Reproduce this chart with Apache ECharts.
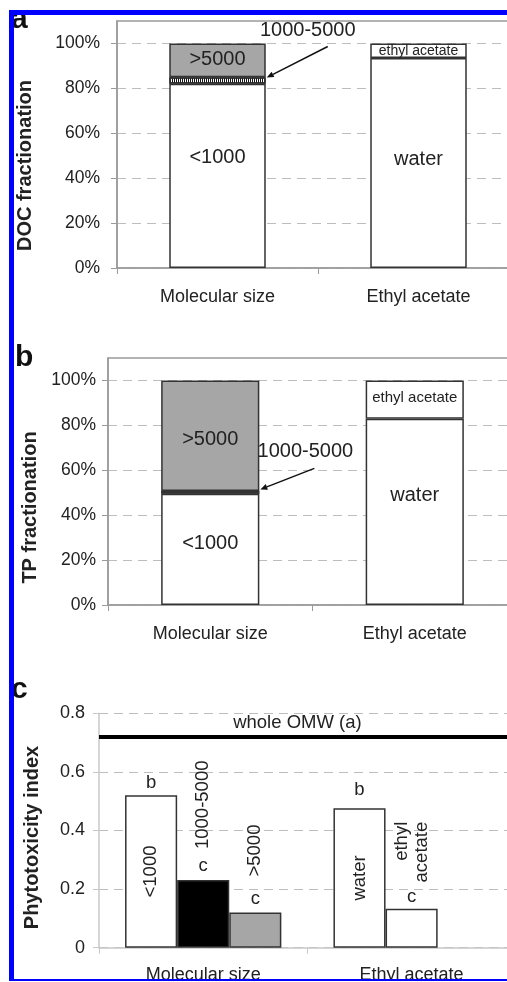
<!DOCTYPE html>
<html><head><meta charset="utf-8">
<script src="https://cdn.jsdelivr.net/npm/echarts@6/dist/echarts.min.js"></script>
<style>html,body{margin:0;padding:0;background:#fff}#c{width:507px;height:982px}</style>
</head><body><div id="c"></div>
<script>
// ---------- data ----------
const categories = ['Molecular size', 'Ethyl acetate'];
// panel a: DOC fractionation (%)
const docLow = [82, 93.5];
const docMid = [3, 6.5];
const docHigh = [15, null];
// panel b: TP fractionation (%)
const tpLow = [49.5, 83];
const tpMid = [1.3, 17];
const tpHigh = [49.2, null];
const lowNames = ['<1000', 'water'];
const midNames = ['1000-5000', 'ethyl acetate'];
const highNames = ['>5000', ''];
const pctTicks = [0, 20, 40, 60, 80, 100];
// panel c: phytotoxicity index
const phytoLow = [0.52, 0.476];
const phytoMid = [0.231, 0.133];
const phytoHigh = [0.12, null];
const phytoNamesLow = ['<1000', 'water'];
const phytoNamesMid = ['1000-5000', 'ethyl\nacetate'];
const phytoNamesHigh = ['>5000', ''];
const lettersLow = ['b', 'b'];
const lettersMid = ['c', 'c'];
const lettersHigh = ['c', ''];
const wholeOMW = 0.72;
const wholeOMWLabel = 'whole OMW (a)';
const panelLetters = ['a', 'b', 'c'];
const yTitles = ['DOC fractionation', 'TP fractionation', 'Phytotoxicity index'];

// ---------- styles ----------
const FONT = "'Liberation Sans', Arial, Helvetica, sans-serif";
const TXT = '#222';
const AX = '#9a9a9a';
const AXC = '#c8c8c8';
const GRIDLINE = {show: true, lineStyle: {type: [9, 6], color: '#bdbdbd', width: 1}};
const BORDER = {borderColor: '#333', borderWidth: 1.5};
const GRAY = '#a6a6a6';
const WHITE = {color: '#fff'};
const GRAYF = {color: GRAY};
const HATCH = {color: '#fff', decal: {symbol: 'rect', symbolSize: 1, dashArrayX: [1, 1], dashArrayY: [4, 0], color: '#111', rotation: 0}};

function pctY(gi, name, gap, margin, shift) {
  return {gridIndex: gi, type: 'value', min: 0, max: 110, interval: 20,
    axisLine: {show: true, lineStyle: {color: AX, width: 1.5}},
    axisTick: {show: true, length: 6, customValues: pctTicks, lineStyle: {color: AX, width: 1}},
    axisLabel: {customValues: pctTicks, margin: margin, fontSize: 17.5, color: TXT, fontFamily: FONT,
      formatter: v => v > 100 ? '' : v + '%'},
    splitLine: GRIDLINE,
    name: name, nameLocation: 'middle', nameGap: gap, nameRotate: 90,
    nameTextStyle: {fontWeight: 'bold', fontSize: 20, color: TXT, fontFamily: FONT, padding: [0, shift, 0, 0]}};
}
function catX(gi, color, margin) {
  return {gridIndex: gi, type: 'category', data: categories,
    axisLine: {show: true, lineStyle: {color: color, width: 1.5}},
    axisTick: {show: true, length: 6, lineStyle: {color: color}},
    axisLabel: {margin: margin, fontSize: 18, color: TXT, fontFamily: FONT, interval: 0},
    splitLine: {show: false}};
}
function stackSeries(gi, stack, values, fills, names, offsets, sizes) {
  return {type: 'bar', xAxisIndex: gi, yAxisIndex: gi, stack: stack, barWidth: '48%',
    emphasis: {disabled: true},
    data: values.map((v, i) => ({value: v,
      itemStyle: Object.assign({}, BORDER, fills[i]),
      label: {show: !!names[i], offset: [0, offsets[i]], fontSize: sizes[i]}})),
    label: {show: true, position: 'inside', color: TXT, fontFamily: FONT,
      formatter: p => names[p.dataIndex] || ''}};
}
function phytoSeries(values, colors, names, labelCfg, letters, letterDist, extra) {
  const s = {type: 'bar', xAxisIndex: 2, yAxisIndex: 2, barWidth: '25%', barGap: '0%',
    emphasis: {disabled: true},
    data: values.map((v, i) => ({value: v,
      itemStyle: Object.assign({color: colors[i]}, BORDER),
      label: labelCfg[i]})),
    label: {show: true, color: TXT, fontFamily: FONT, fontSize: 18.5, rotate: 90,
      formatter: p => names[p.dataIndex] || ''},
    markPoint: {symbol: 'circle', symbolSize: 0, silent: true, animation: false,
      label: {show: true, position: 'top', color: TXT, fontFamily: FONT, fontSize: 18.5, formatter: '{b}'},
      data: values.map((v, i) => (v == null || !letters[i]) ? null :
        {name: letters[i], coord: [i, v], label: {distance: letterDist[i]}}).filter(Boolean)}};
  return Object.assign(s, extra || {});
}
const TOPROT = (d) => ({position: 'top', align: 'left', verticalAlign: 'middle', distance: d});
const INROT = {position: 'inside', align: 'center', verticalAlign: 'middle'};

const option = {
  animation: false,
  backgroundColor: '#fff',
  textStyle: {fontFamily: FONT},
  grid: [
    {left: 117, top: 21, width: 402, height: 247, show: true, borderColor: AX, borderWidth: 1.5, backgroundColor: 'transparent', outerBoundsMode: 'none', containLabel: false},
    {left: 108, top: 358, width: 409, height: 247, show: true, borderColor: AX, borderWidth: 1.5, backgroundColor: 'transparent', outerBoundsMode: 'none', containLabel: false},
    {left: 99, top: 713.3, width: 416.8, height: 234.4, outerBoundsMode: 'none', containLabel: false}
  ],
  xAxis: [catX(0, AX, 20), catX(1, AX, 20), catX(2, AXC, 18)],
  yAxis: [
    pctY(0, yTitles[0], 82, 17, 42),
    pctY(1, yTitles[1], 68, 12, 52),
    {gridIndex: 2, type: 'value', min: 0, max: 0.8, interval: 0.2,
      axisLine: {show: true, lineStyle: {color: AXC, width: 1.5}},
      axisTick: {show: true, length: 6, lineStyle: {color: AXC}},
      axisLabel: {margin: 14, fontSize: 18, color: TXT, fontFamily: FONT,
        formatter: v => v === 0 ? '0' : v.toFixed(1)},
      splitLine: GRIDLINE,
      name: yTitles[2], nameLocation: 'middle', nameGap: 57, nameRotate: 90,
      nameTextStyle: {fontWeight: 'bold', fontSize: 20, color: TXT, fontFamily: FONT, padding: [0, 14, 0, 0]}}
  ],
  series: [
    stackSeries(0, 'a', docLow, [WHITE, WHITE], lowNames, [-18, -4], [20, 20]),
    stackSeries(0, 'a', docMid, [HATCH, WHITE], [null, midNames[1]], [0, 0], [20, 14]),
    stackSeries(0, 'a', docHigh, [GRAYF, GRAYF], highNames, [-1, 0], [20, 20]),
    stackSeries(1, 'b', tpLow, [WHITE, WHITE], lowNames, [-6, -16], [20, 20]),
    stackSeries(1, 'b', tpMid, [HATCH, WHITE], [null, midNames[1]], [0, -2], [20, 15]),
    stackSeries(1, 'b', tpHigh, [GRAYF, GRAYF], highNames, [3.5, 0], [20, 20]),
    phytoSeries(phytoLow, ['#fff', '#fff'], phytoNamesLow, [INROT, INROT], lettersLow, [2.5, 9], {
      markLine: {silent: true, symbol: ['none', 'none'], animation: false,
        lineStyle: {color: '#000', width: 4, type: 'solid'},
        label: {show: true, position: 'insideMiddleTop', formatter: wholeOMWLabel, fontSize: 18.5,
          color: TXT, fontFamily: FONT, distance: 4, offset: [-10, 0]},
        data: [{yAxis: wholeOMW}]}
    }),
    phytoSeries(phytoMid, ['#000', '#fff'], phytoNamesMid,
      [TOPROT(31), Object.assign(TOPROT(87), {align: 'right', lineHeight: 20})], lettersMid, [5, 2.5]),
    phytoSeries(phytoHigh, [GRAY, GRAY], phytoNamesHigh, [TOPROT(36), {}], lettersHigh, [4, 0])
  ]
};

const chart = echarts.init(document.getElementById('c'), null, {renderer: 'canvas'});
chart.setOption(option);

// ---------- annotations derived from the axes ----------
function px(gi, cat, val) { return chart.convertToPixel({gridIndex: gi}, [cat, val]); }
function arrowEls(tip, tail, textPos, text) {
  const dx = tip[0] - tail[0], dy = tip[1] - tail[1];
  const L = Math.sqrt(dx * dx + dy * dy), ux = dx / L, uy = dy / L, nx = -uy, ny = ux;
  const hl = 7, hw = 3;
  const bx = tip[0] - ux * hl, by = tip[1] - uy * hl;
  return [
    {type: 'line', z: 50, shape: {x1: tail[0], y1: tail[1], x2: bx, y2: by}, style: {stroke: '#111', lineWidth: 1.5}},
    {type: 'polygon', z: 50, shape: {points: [tip, [bx + nx * hw, by + ny * hw], [bx - nx * hw, by - ny * hw]]}, style: {fill: '#111'}},
    {type: 'text', z: 50, x: textPos[0], y: textPos[1], style: {text: text, fontSize: 20, fontFamily: FONT, fill: TXT, align: 'center', verticalAlign: 'middle'}}
  ];
}
const graphics = [];
[[0, docLow, docMid, [61, -31], [41, -47]], [1, tpLow, tpMid, [54, -21], [45, -38]]].forEach(([gi, lo, mid, tailOff, textOff]) => {
  const band = px(gi, categories[1], 0)[0] - px(gi, categories[0], 0)[0];
  const p = px(gi, categories[0], lo[0] + mid[0] / 2);
  const tip = [p[0] + band * 0.48 / 2 + 1, p[1] - 3];
  graphics.push(...arrowEls(tip, [tip[0] + tailOff[0], tip[1] + tailOff[1]], [tip[0] + textOff[0], tip[1] + textOff[1]], midNames[0]));
});
[[11, 20], [15, 357.6], [11, 689.5]].forEach((pos, i) => {
  graphics.push({type: 'text', z: 40, x: pos[0], y: pos[1], style: {text: panelLetters[i], fontSize: 30, fontWeight: 'bold', fontFamily: FONT, fill: '#111', align: 'left', verticalAlign: 'middle'}});
});
// blue frame
graphics.push(
  {type: 'rect', z: 100, shape: {x: 9, y: 10, width: 5, height: 972}, style: {fill: '#0000ff'}},
  {type: 'rect', z: 100, shape: {x: 9, y: 10, width: 498, height: 5}, style: {fill: '#0000ff'}},
  {type: 'rect', z: 100, shape: {x: 9, y: 979, width: 498, height: 2}, style: {fill: '#0000ff'}},
  {type: 'rect', z: 100, shape: {x: 0, y: 981, width: 507, height: 1}, style: {fill: '#fff'}}
);
chart.setOption({graphic: graphics});
</script>
</body></html>
